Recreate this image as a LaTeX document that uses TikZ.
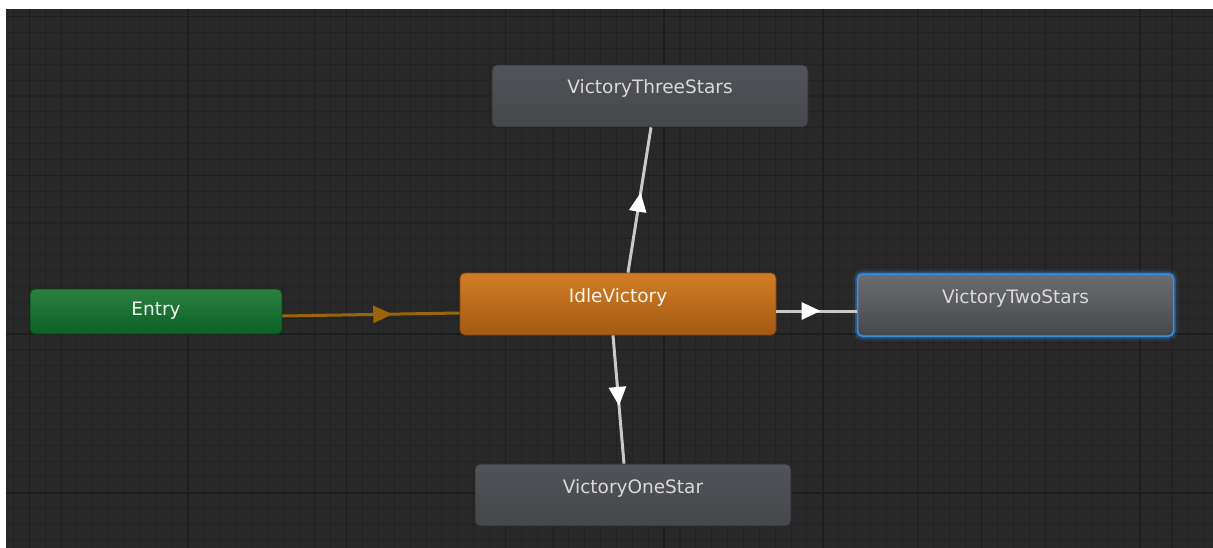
\documentclass[tikz,border=0pt]{standalone}
\usepackage{fontspec}
\setmainfont{DejaVu Sans}
\usepackage{tikz}
\usetikzlibrary{calc,arrows.meta,decorations.markings,positioning}

\definecolor{gridbg}{HTML}{282828}
\definecolor{gridminor}{HTML}{222222}
\definecolor{gridmajor}{HTML}{1D1D1D}
\definecolor{graytop}{HTML}{515358}
\definecolor{graybot}{HTML}{45474B}
\definecolor{grayedge}{HTML}{2C2D30}
\definecolor{graytext}{HTML}{D9D9DB}
\definecolor{orangetop}{HTML}{D27D25}
\definecolor{orangebot}{HTML}{A35A12}
\definecolor{greentop}{HTML}{2C8141}
\definecolor{greenbot}{HTML}{0A6123}
\definecolor{glowblue}{HTML}{3A8FE3}
\definecolor{transgray}{HTML}{C9C9C9}
\definecolor{transorange}{HTML}{9C640A}

\begin{document}
\begin{tikzpicture}[x=1pt,y=-1pt,
	state/.style={rounded corners=5pt,minimum width=316pt,minimum height=62pt,inner sep=0pt,
		text height=12pt,text depth=16pt,font=\fontsize{18.5}{22}\selectfont,draw=grayedge,line width=0.8pt},
	graystate/.style={state,top color=graytop,bottom color=graybot,text=graytext},
	trans/.style={draw=transgray,line width=3pt,postaction={decorate},
		decoration={markings,mark=at position 0.55 with {\arrow[white]{Triangle[length=19pt,width=17pt]}}}},
	entrytrans/.style={draw=transorange,line width=3pt,postaction={decorate},
		decoration={markings,mark=at position 0.62 with {\arrow[transorange]{Triangle[length=19pt,width=17pt]}}}},
	]

	\useasboundingbox (0,0) rectangle (1213,548);
	\fill[white] (0,0) rectangle (1213,548);
	\fill[gridbg] (6,9) rectangle (1213,548);

	% grid
	\foreach \k in {-1,...,74}
		\draw[gridminor,line width=1.1pt] ({29.3+15.87*\k},9) -- ({29.3+15.87*\k},548);
	\foreach \k in {0,...,33}
		\draw[gridminor,line width=1.1pt] (6,{16.7+15.87*\k}) -- (1213,{16.7+15.87*\k});
	\foreach \k in {0,...,7}
		\draw[gridmajor,line width=1.5pt] ({29.3+158.7*\k},9) -- ({29.3+158.7*\k},548);
	\foreach \k in {0,...,3}
		\draw[gridmajor,line width=1.5pt] (6,{16.7+158.7*\k}) -- (1213,{16.7+158.7*\k});

	% states
	\node[state,minimum width=252pt,minimum height=45pt,text height=14pt,text depth=6pt,
		top color=greentop,bottom color=greenbot,draw=greenbot!70!black,text=white!90!gray] (entry) at (156,311.5){Entry};
	\node[state,top color=orangetop,bottom color=orangebot,draw=orangebot!80!black,text=white!92!orange] (idle) at (618,304){IdleVictory};
	\node[graystate] (three) at (650,96){VictoryThreeStars};
	\node[graystate,top color=graytop!85!white,draw=glowblue,line width=1.5pt,
		preaction={draw=glowblue,line width=10pt,draw opacity=0.12},
		preaction={draw=glowblue,line width=5pt,draw opacity=0.35}] (two) at (1015.5,305){VictoryTwoStars};
	\node[graystate] (one) at (633,495){VictoryOneStar};

	% transitions
	\draw[entrytrans] ($(entry.east)+(0,4.5)$) -- ($(idle.west)+(0,9)$);
	\draw[trans] ($(idle.north)+(10,0)$) -- ($(three.south)+(1,0)$);
	\draw[trans] ($(idle.east)+(0,7)$) -- ($(two.west)+(0,6)$);
	\draw[trans] ($(idle.south)+(-5,0)$) -- ($(one.north)+(-9,0)$);
\end{tikzpicture}
\end{document}
